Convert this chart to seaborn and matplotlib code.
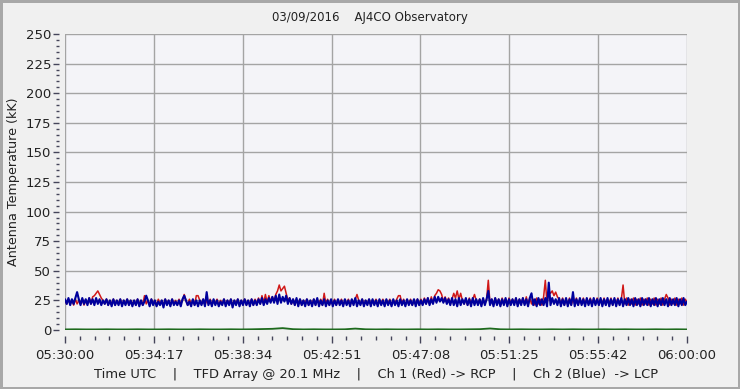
import seaborn as sns
import numpy as np
import pandas as pd
import matplotlib
matplotlib.use('Agg')
import matplotlib.pyplot as plt
from matplotlib.ticker import MultipleLocator, FixedLocator

# Данные: отсчёты каждые 5 с от 05:30:00 (Ch 1 / Ch 2), зелёный канал каждые 30 с
t_step = 5
ch1_red = [
    25, 22, 26, 22, 25, 21, 26, 22, 25, 22, 26, 21, 25, 22, 27, 22, 28, 29, 31, 33,
    30, 27, 25, 22, 26, 21, 25, 22, 26, 21, 25, 22, 26, 21, 25, 22, 26, 21, 25, 22,
    25, 21, 26, 22, 25, 21, 29, 22, 25, 21, 26, 22, 25, 21, 26, 22, 25, 21, 26, 22,
    25, 21, 26, 22, 25, 21, 26, 22, 25, 30, 25, 21, 26, 22, 25, 21, 29, 29, 25, 22,
    26, 21, 25, 22, 26, 21, 25, 22, 26, 21, 25, 22, 26, 21, 25, 22, 26, 21, 25, 22,
    26, 21, 25, 22, 26, 21, 25, 22, 26, 21, 26, 22, 27, 22, 29, 23, 30, 23, 29, 24,
    28, 24, 30, 33, 38, 33, 35, 37, 31, 25, 27, 22, 26, 21, 25, 22, 26, 21, 25, 22,
    26, 21, 25, 22, 26, 21, 25, 22, 26, 21, 31, 22, 26, 21, 25, 22, 26, 21, 25, 22,
    26, 21, 25, 22, 26, 21, 25, 22, 26, 30, 25, 22, 26, 21, 25, 22, 26, 21, 25, 22,
    26, 21, 25, 22, 26, 21, 25, 22, 26, 21, 25, 22, 26, 29, 29, 22, 26, 21, 25, 22,
    26, 21, 25, 22, 26, 21, 26, 22, 27, 22, 27, 22, 28, 23, 29, 31, 34, 33, 30, 24,
    28, 23, 27, 22, 26, 31, 27, 33, 26, 31, 25, 22, 26, 21, 27, 22, 26, 30, 25, 22,
    26, 21, 25, 22, 26, 42, 22, 26, 21, 27, 22, 26, 21, 27, 22, 26, 21, 27, 22, 26,
    22, 27, 21, 26, 22, 27, 22, 28, 21, 27, 22, 26, 21, 27, 22, 26, 21, 28, 42, 22,
    33, 31, 33, 29, 32, 28, 26, 22, 27, 21, 26, 22, 27, 21, 26, 22, 27, 21, 26, 22,
    27, 21, 26, 22, 27, 21, 26, 22, 27, 21, 26, 22, 27, 21, 26, 22, 27, 21, 26, 22,
    27, 21, 26, 38, 22, 27, 21, 26, 22, 27, 21, 26, 22, 27, 21, 26, 22, 27, 21, 26,
    22, 27, 21, 26, 22, 27, 21, 26, 30, 27, 21, 26, 22, 27, 21, 26, 22, 27, 21, 26,
    23,
]
ch2_blue = [
    26, 22, 27, 21, 26, 22, 27, 32, 26, 21, 27, 22, 26, 21, 27, 22, 26, 21, 27, 22,
    26, 21, 25, 22, 26, 21, 25, 20, 26, 21, 25, 21, 26, 20, 25, 21, 26, 21, 25, 20,
    25, 21, 26, 20, 25, 21, 24, 29, 25, 20, 26, 21, 25, 20, 24, 21, 25, 19, 26, 21,
    25, 20, 26, 21, 24, 21, 25, 20, 26, 29, 25, 21, 24, 20, 26, 21, 25, 20, 25, 21,
    26, 20, 32, 21, 25, 20, 26, 21, 25, 20, 24, 21, 26, 20, 25, 21, 26, 19, 25, 21,
    26, 20, 25, 21, 26, 21, 25, 20, 26, 21, 25, 21, 26, 22, 27, 21, 26, 22, 27, 23,
    28, 23, 29, 22, 30, 23, 28, 24, 29, 22, 27, 22, 26, 21, 27, 20, 26, 21, 25, 20,
    26, 21, 25, 20, 26, 21, 27, 20, 25, 21, 26, 20, 25, 21, 26, 20, 25, 21, 26, 21,
    25, 20, 26, 21, 25, 20, 26, 21, 27, 20, 25, 21, 26, 20, 25, 21, 26, 20, 26, 21,
    25, 20, 26, 21, 25, 20, 26, 21, 25, 20, 26, 21, 25, 20, 26, 21, 25, 20, 26, 21,
    25, 21, 26, 20, 26, 21, 25, 21, 26, 22, 27, 21, 26, 22, 28, 23, 28, 24, 27, 23,
    27, 22, 26, 21, 27, 21, 26, 20, 27, 21, 26, 22, 27, 21, 26, 20, 27, 21, 26, 21,
    26, 20, 27, 21, 26, 33, 21, 26, 20, 27, 21, 26, 20, 26, 21, 27, 20, 26, 21, 26,
    21, 27, 20, 26, 21, 27, 21, 26, 20, 27, 31, 21, 26, 20, 27, 21, 26, 21, 27, 20,
    40, 21, 27, 22, 26, 21, 27, 20, 26, 21, 27, 20, 26, 21, 32, 20, 26, 21, 27, 21,
    26, 20, 27, 21, 26, 20, 27, 21, 26, 21, 27, 20, 26, 21, 27, 20, 26, 21, 27, 20,
    26, 21, 27, 20, 26, 21, 27, 21, 26, 20, 27, 21, 26, 20, 27, 21, 26, 21, 27, 20,
    26, 21, 27, 20, 26, 21, 27, 21, 26, 20, 27, 21, 26, 21, 27, 20, 26, 21, 27, 21,
    24,
]
g_step = 30
ch_green = [
    0.5, 0.6, 0.5, 0.5, 0.6, 0.5, 0.5, 0.6, 0.5, 0.5,
    0.6, 0.5, 0.5, 0.6, 0.5, 0.5, 0.6, 0.5, 0.6, 0.8,
    1.0, 1.6, 0.7, 0.5, 0.6, 0.5, 0.5, 0.6, 1.2, 0.6,
    0.5, 0.6, 0.5, 0.5, 0.6, 0.5, 0.6, 0.5, 0.5, 0.6,
    0.7, 1.3, 0.6, 0.5, 0.6, 0.5, 0.5, 0.6, 0.5, 0.6,
    0.5, 0.5, 0.6, 0.5, 0.6, 0.5, 0.5, 0.6, 0.5, 0.6,
    0.5,
]
tick_labels = ['05:30:00', '05:34:17', '05:38:34', '05:42:51',
               '05:47:08', '05:51:25', '05:55:42', '06:00:00']
title = '03/09/2016    AJ4CO Observatory'
xlabel = ('Time UTC    |    TFD Array @ 20.1 MHz    |    Ch 1 (Red) -> RCP'
          '    |    Ch 2 (Blue)  -> LCP')
ylabel = 'Antenna Temperature (kK)'

df = pd.DataFrame({'t': np.arange(len(ch1_red)) * t_step,
                   'red': ch1_red, 'blue': ch2_blue})
dfg = pd.DataFrame({'t': np.arange(len(ch_green)) * g_step, 'green': ch_green})

sns.set_style('white')
plt.rcParams['font.family'] = ['DejaVu Sans']
txt = '#222222'
tick_c = '#45455a'

fig = plt.figure(figsize=(7.4, 3.89), dpi=100)
fig.patch.set_facecolor('#f0f0f0')
fig.patch.set_edgecolor('#a8a8a8')
fig.patch.set_linewidth(2.5)
ax = fig.add_axes([65 / 740, 1 - 330 / 389, 622 / 740, 296 / 389])
ax.set_facecolor('#f4f4f8')

# красный под синим, синий почти целиком его перекрывает
sns.lineplot(data=df, x='t', y='red', ax=ax, color='#d01818', lw=1.1,
             estimator=None, sort=False, zorder=3)
sns.lineplot(data=df, x='t', y='blue', ax=ax, color='#00009c', lw=1.5,
             estimator=None, sort=False, zorder=4)
sns.lineplot(data=dfg, x='t', y='green', ax=ax, color='#1e6a1e', lw=1.3,
             estimator=None, sort=False, zorder=5)

ax.set_xlim(0, 1800)
ax.set_ylim(0, 250)
ax.xaxis.set_major_locator(FixedLocator(np.linspace(0, 1800, 8)))
ax.xaxis.set_minor_locator(FixedLocator(np.linspace(0, 1800, 43)))
ax.set_xticklabels(tick_labels)
ax.yaxis.set_major_locator(MultipleLocator(25))
ax.yaxis.set_minor_locator(MultipleLocator(5))

ax.grid(True, which='major', color='#a4a4a4', lw=1)
for s in ax.spines.values():
    s.set_color('none')
ax.spines['left'].set_position(('outward', 4))
ax.spines['bottom'].set_position(('outward', 4))

ax.tick_params(axis='both', which='both', bottom=True, left=True,
               colors=tick_c, labelcolor=txt, width=1)
ax.tick_params(axis='both', which='major', labelsize=9.5)
ax.tick_params(axis='y', which='major', length=4, pad=2)
ax.tick_params(axis='y', which='minor', length=2)
ax.tick_params(axis='x', which='major', length=5, pad=5)
ax.tick_params(axis='x', which='minor', length=3)

ax.set_xlabel(xlabel, color=txt, fontsize=9.4, labelpad=4)
ax.set_ylabel(ylabel, color=txt, fontsize=9.2, labelpad=4)
fig.text(0.5, 1 - 18 / 389, title, ha='center', va='center', color=txt, fontsize=8.5)

plt.savefig('out.png', dpi=100, facecolor=fig.get_facecolor(),
            edgecolor=fig.patch.get_edgecolor())
